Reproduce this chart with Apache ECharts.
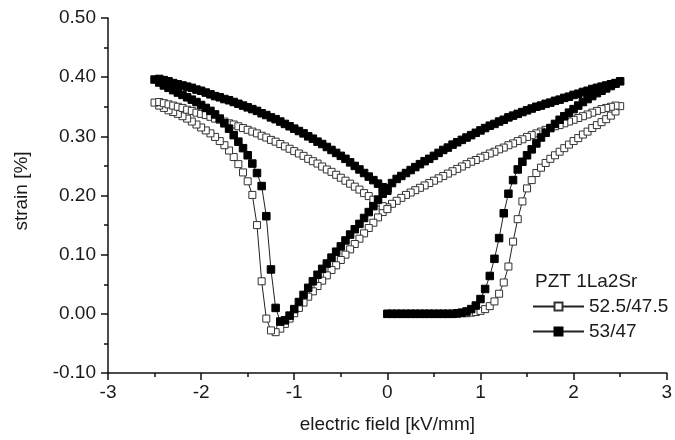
<!DOCTYPE html>
<html><head><meta charset="utf-8">
<script src="https://cdn.jsdelivr.net/npm/echarts@6/dist/echarts.min.js"></script>
<style>html,body{margin:0;padding:0;background:#fff}#c{width:675px;height:440px}</style>
</head><body><div id="c"></div>
<script>
// Electric field ramps (kV/mm)
const fieldUp = [0,0.05,0.1,0.15,0.2,0.25,0.3,0.35,0.4,0.45,0.5,0.55,0.6,0.65,0.7,0.75,0.8,0.85,0.9,0.95,1,1.05,1.1,1.15,1.2,1.25,1.3,1.35,1.4,1.45,1.5,1.55,1.6,1.65,1.7,1.75,1.8,1.85,1.9,1.95,2,2.05,2.1,2.15,2.2,2.25,2.3,2.35,2.4,2.45,2.5];
const fieldDown = [2.45,2.4,2.35,2.3,2.25,2.2,2.15,2.1,2.05,2,1.95,1.9,1.85,1.8,1.75,1.7,1.65,1.6,1.55,1.5,1.45,1.4,1.35,1.3,1.25,1.2,1.15,1.1,1.05,1,0.95,0.9,0.85,0.8,0.75,0.7,0.65,0.6,0.55,0.5,0.45,0.4,0.35,0.3,0.25,0.2,0.15,0.1,0.05,0,-0.05,-0.1,-0.15,-0.2,-0.25,-0.3,-0.35,-0.4,-0.45,-0.5,-0.55,-0.6,-0.65,-0.7,-0.75,-0.8,-0.85,-0.9,-0.95,-1,-1.05,-1.1,-1.15,-1.2,-1.25,-1.3,-1.35,-1.4,-1.45,-1.5,-1.55,-1.6,-1.65,-1.7,-1.75,-1.8,-1.85,-1.9,-1.95,-2,-2.05,-2.1,-2.15,-2.2,-2.25,-2.3,-2.35,-2.4,-2.45,-2.5];
const fieldReturn = [-2.45,-2.4,-2.35,-2.3,-2.25,-2.2,-2.15,-2.1,-2.05,-2,-1.95,-1.9,-1.85,-1.8,-1.75,-1.7,-1.65,-1.6,-1.55,-1.5,-1.45,-1.4,-1.35,-1.3,-1.25,-1.2,-1.15,-1.1,-1.05,-1,-0.95,-0.9,-0.85,-0.8,-0.75,-0.7,-0.65,-0.6,-0.55,-0.5,-0.45,-0.4,-0.35,-0.3,-0.25,-0.2,-0.15,-0.1,-0.05,0];

// Strain (%) for PZT 1La2Sr 52.5/47.5 (open squares)
const openUp = [0,0,0,0,0,0,0,0,0,0,0,0,0,0,0,0,
  0.001,0.001,0.002,0.003,0.005,0.008,0.013,0.021,0.034,0.053,
  0.080,0.122,0.160,0.190,0.212,0.226,0.238,0.247,0.255,0.262,
  0.268,0.274,0.280,0.286,0.292,0.297,0.303,0.308,0.314,0.319,
  0.324,0.329,0.335,0.342,0.351];
const openDown = [0.352,0.350,0.348,0.346,0.343,0.340,0.337,0.334,0.331,0.328,
  0.325,0.322,0.319,0.317,0.314,0.311,0.308,0.305,0.302,0.299,
  0.295,0.292,0.288,0.285,0.281,0.278,0.274,0.271,0.267,0.264,
  0.260,0.257,0.253,0.249,0.245,0.241,0.237,0.233,0.229,0.225,
  0.221,0.217,0.213,0.209,0.205,0.201,0.196,0.191,0.186,0.180,
  0.172,0.163,0.154,0.145,0.136,0.127,0.118,0.109,0.100,0.091,
  0.082,0.074,0.065,0.056,0.047,0.038,0.029,0.019,0.010,0.001,
  -0.008,-0.017,-0.025,-0.031,-0.028,-0.008,0.055,0.150,0.201,0.224,
  0.239,0.253,0.265,0.276,0.285,0.292,0.299,0.305,0.310,0.315,
  0.320,0.325,0.330,0.334,0.338,0.341,0.344,0.348,0.352,0.357];
const openReturn = [0.358,0.356,0.354,0.352,0.350,0.348,0.345,0.343,0.340,0.338,
  0.336,0.333,0.330,0.328,0.325,0.322,0.320,0.317,0.314,0.311,
  0.308,0.305,0.301,0.298,0.294,0.291,0.287,0.283,0.279,0.275,
  0.271,0.267,0.262,0.258,0.254,0.249,0.244,0.240,0.235,0.230,
  0.225,0.220,0.215,0.210,0.204,0.199,0.193,0.188,0.182,0.177];

// Strain (%) for PZT 1La2Sr 53/47 (filled squares)
const filledUp = [0,0,0,0,0,0,0,0,0,0,0,0,0,0,0,
  0.001,0.002,0.004,0.008,0.014,0.025,0.042,0.064,0.093,0.128,
  0.170,0.203,0.226,0.244,0.257,0.268,0.278,0.288,0.298,0.306,
  0.314,0.321,0.328,0.334,0.340,0.346,0.352,0.358,0.363,0.368,
  0.373,0.377,0.381,0.385,0.389,0.393];
const filledDown = [0.390,0.388,0.386,0.384,0.382,0.380,0.377,0.375,0.372,0.370,
  0.367,0.365,0.362,0.360,0.357,0.355,0.352,0.350,0.347,0.344,
  0.341,0.338,0.335,0.332,0.328,0.325,0.321,0.318,0.314,0.310,
  0.306,0.302,0.298,0.294,0.290,0.286,0.281,0.277,0.272,0.267,
  0.262,0.258,0.253,0.248,0.243,0.238,0.233,0.228,0.221,0.212,
  0.203,0.193,0.182,0.172,0.162,0.152,0.143,0.134,0.124,0.114,
  0.105,0.095,0.085,0.076,0.066,0.055,0.044,0.032,0.020,0.008,
  -0.003,-0.011,-0.013,0.010,0.075,0.165,0.216,0.238,0.254,0.268,
  0.280,0.291,0.302,0.313,0.322,0.330,0.337,0.343,0.348,0.353,
  0.358,0.362,0.366,0.370,0.374,0.378,0.382,0.386,0.391,0.396];
const filledReturn = [0.397,0.395,0.393,0.390,0.388,0.386,0.384,0.382,0.379,0.377,
  0.374,0.371,0.368,0.366,0.363,0.361,0.358,0.355,0.352,0.349,
  0.346,0.343,0.339,0.336,0.332,0.329,0.325,0.321,0.317,0.313,
  0.309,0.305,0.300,0.296,0.291,0.287,0.282,0.277,0.272,0.267,
  0.262,0.256,0.250,0.244,0.238,0.232,0.226,0.220,0.214,0.208];

const seriesNames = ['52.5/47.5', '53/47'];
const legendTitle = 'PZT 1La2Sr';
const xTicks = {min: -3, max: 3, step: 1};
const yTicks = {min: -0.1, max: 0.5, step: 0.1};

function zip(xs, ys) { return xs.map((x, i) => [x, ys[i]]); }
const openData = zip(fieldUp, openUp).concat(zip(fieldDown, openDown), zip(fieldReturn, openReturn));
const filledData = zip(fieldUp, filledUp).concat(zip(fieldDown, filledDown), zip(fieldReturn, filledReturn));

const FONT = '"Liberation Sans", Arial, Helvetica, sans-serif';
const TXT = '#1a1a1a';
const axisCommon = {
  axisLine: {show: true, onZero: false, lineStyle: {color: '#111', width: 1.5}},
  axisTick: {show: true, inside: false, length: 7, lineStyle: {color: '#111', width: 1.5}},
  minorTick: {show: true, splitNumber: 2, length: 4, lineStyle: {color: '#111', width: 1.5}},
  splitLine: {show: false},
  minorSplitLine: {show: false},
  nameTextStyle: {fontFamily: FONT, fontSize: 19, color: TXT},
};

const chart = echarts.init(document.getElementById('c'), null, {renderer: 'canvas'});
chart.setOption({
  animation: false,
  backgroundColor: '#fff',
  textStyle: {fontFamily: FONT, color: TXT},
  grid: {left: 108, right: 7, top: 18, bottom: 67, containLabel: false},
  graphic: [{
    type: 'text', left: 535, top: 272,
    style: {text: legendTitle, font: '19px ' + FONT, fill: TXT}
  }, {
    type: 'text', x: 22, y: 191, rotation: Math.PI / 2,
    style: {text: 'strain [%]', font: '19px ' + FONT, fill: TXT, align: 'center', verticalAlign: 'middle'}
  }],
  legend: {
    show: true, orient: 'vertical', left: 532, top: 297, padding: 0,
    itemWidth: 51, itemHeight: 10, itemGap: 6,
    data: seriesNames,
    textStyle: {fontFamily: FONT, fontSize: 19, color: TXT}
  },
  xAxis: Object.assign({
    type: 'value', min: xTicks.min, max: xTicks.max, interval: xTicks.step,
    name: 'electric field [kV/mm]', nameLocation: 'middle', nameGap: 42,
    axisLabel: {fontFamily: FONT, fontSize: 19, color: TXT, margin: 10}
  }, axisCommon),
  yAxis: Object.assign({
    type: 'value', min: yTicks.min, max: yTicks.max, interval: yTicks.step,
    axisLabel: {fontFamily: FONT, fontSize: 19, color: TXT, margin: 12,
      formatter: v => v.toFixed(2)}
  }, axisCommon),
  series: [{
    name: seriesNames[0], type: 'line', data: openData,
    symbol: 'rect', symbolSize: 7, showSymbol: true, showAllSymbol: true,
    sampling: null, smooth: false, z: 2,
    lineStyle: {color: '#222', width: 1},
    itemStyle: {color: '#fff', borderColor: '#333', borderWidth: 1},
    emphasis: {disabled: true}
  }, {
    name: seriesNames[1], type: 'line', data: filledData,
    symbol: 'rect', symbolSize: 7.5, showSymbol: true, showAllSymbol: true,
    sampling: null, smooth: false, z: 3,
    lineStyle: {color: '#222', width: 1},
    itemStyle: {color: '#000', borderColor: '#000', borderWidth: 1},
    emphasis: {disabled: true}
  }]
});
</script>
</body></html>
